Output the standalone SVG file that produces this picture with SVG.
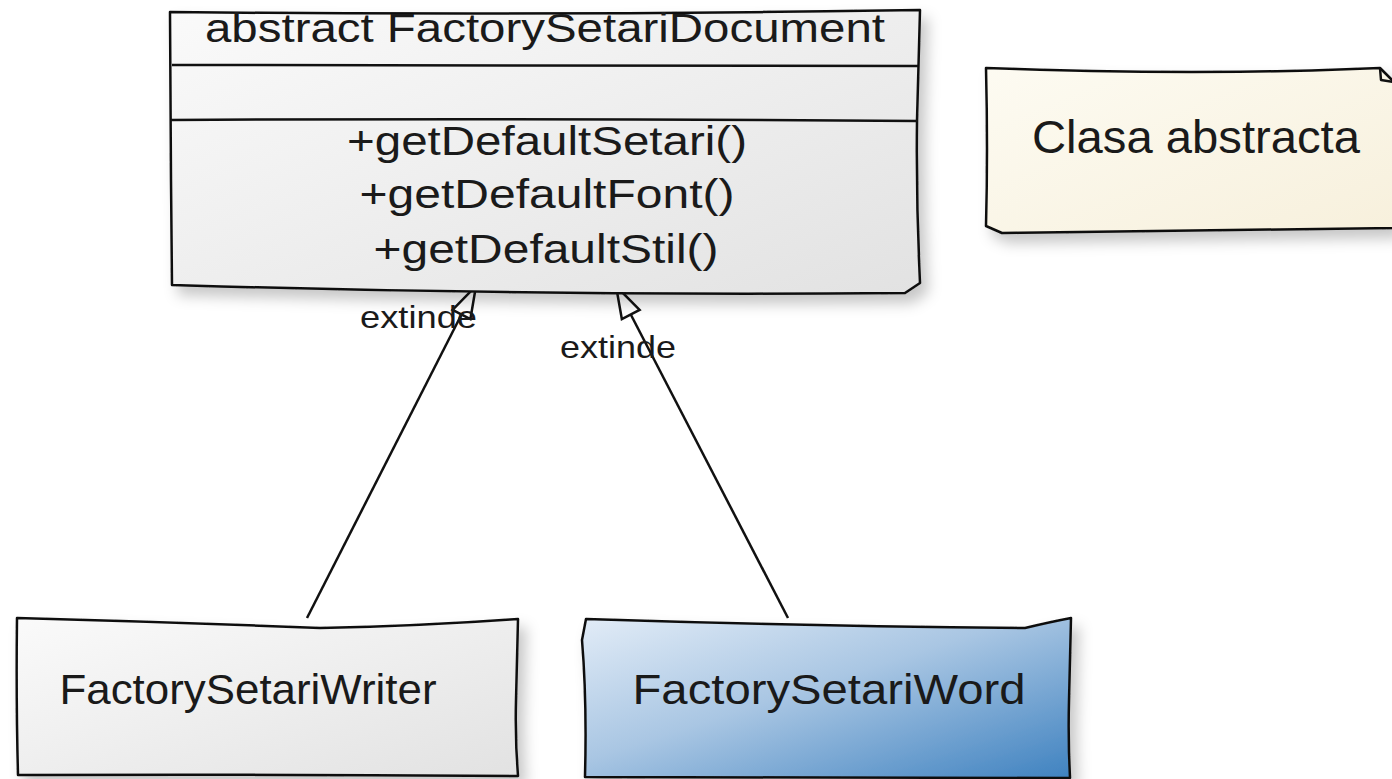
<svg xmlns="http://www.w3.org/2000/svg" width="1392" height="779" viewBox="0 0 1392 779">
<style>
.box{stroke:#111;stroke-width:2.5;stroke-linejoin:round}
.t{font-family:"Liberation Sans",Arial,sans-serif;fill:#1a1a1a}
.edge{stroke:#111;stroke-width:2.5;fill:none}
.lbl{font-family:"Liberation Sans",Arial,sans-serif;font-size:32px;fill:#1a1a1a}
</style>
<defs>
<linearGradient id="grey" x1="0" y1="0" x2="1" y2="1">
<stop offset="0" stop-color="#fafafa"/><stop offset="1" stop-color="#e2e2e2"/>
</linearGradient>
<linearGradient id="note" x1="0" y1="0" x2="1" y2="1">
<stop offset="0" stop-color="#fdfbf2"/><stop offset="1" stop-color="#f7f0dc"/>
</linearGradient>
<linearGradient id="blue" x1="0" y1="0" x2="1" y2="1">
<stop offset="0" stop-color="#e2ecf7"/><stop offset="0.45" stop-color="#a9c6e3"/><stop offset="1" stop-color="#3f82c0"/>
</linearGradient>
<filter id="sh" x="-5%" y="-5%" width="115%" height="125%">
<feDropShadow dx="7" dy="9" stdDeviation="7" flood-color="#000" flood-opacity="0.22"/>
</filter>
<marker id="tri" markerUnits="userSpaceOnUse" markerWidth="40" markerHeight="30" viewBox="0 0 40 30" refX="36" refY="15" orient="auto">
<path d="M4,5 L36,15 L4,25 Z" fill="#fff" stroke="#111" stroke-width="2.5" stroke-linejoin="miter"/>
</marker>
</defs>
<rect width="1392" height="779" fill="#fff"/>

<g id="connectors">
<g id="e1">
<path class="edge" d="M307,618 L476,286" marker-end="url(#tri)"/>
<text class="lbl" x="360" y="328" textLength="117" lengthAdjust="spacingAndGlyphs">extinde</text>
</g>
<g id="e2">
<path class="edge" d="M788,618 L616,286" marker-end="url(#tri)"/>
<text class="lbl" x="560" y="358" textLength="116" lengthAdjust="spacingAndGlyphs">extinde</text>
</g>
</g>

<g id="abstract">
<path class="box" filter="url(#sh)" fill="url(#grey)" d="M170,12 Q540,16 920,10 L917,120 Q916,200 920,283 L905,293 Q540,296 172,285 L171,180 Z"/>
<path class="box" fill="none" d="M172,65 Q540,66 918,66"/>
<path class="box" fill="none" d="M171,120 Q540,118 918,121"/>
<text class="t" x="545" y="42" font-size="40" text-anchor="middle" textLength="680" lengthAdjust="spacingAndGlyphs">abstract FactorySetariDocument</text>
<text class="t" x="547" y="155" font-size="40" text-anchor="middle" textLength="400" lengthAdjust="spacingAndGlyphs">+getDefaultSetari()</text>
<text class="t" x="547" y="208" font-size="40" text-anchor="middle" textLength="375" lengthAdjust="spacingAndGlyphs">+getDefaultFont()</text>
<text class="t" x="546" y="263" font-size="40" text-anchor="middle" textLength="345" lengthAdjust="spacingAndGlyphs">+getDefaultStil()</text>
</g>

<g id="note1">
<path class="box" filter="url(#sh)" fill="url(#note)" d="M986,68 Q1200,76 1380,68 L1394,82 L1394,228 Q1200,230 1002,233 L986,226 Q988,150 986,68 Z"/>
<path class="box" fill="none" d="M1380,68 L1381,80 L1394,82"/>
<text class="t" x="1196" y="153" font-size="46" text-anchor="middle" textLength="328" lengthAdjust="spacingAndGlyphs">Clasa abstracta</text>
</g>

<g id="writer">
<path class="box" filter="url(#sh)" fill="url(#grey)" d="M17,618 Q170,622 320,628 Q420,626 518,619 L516,700 Q515,740 518,776 Q270,774 18,775 Q16,700 17,618 Z"/>
<text class="t" x="248" y="704" font-size="43" text-anchor="middle" textLength="377" lengthAdjust="spacingAndGlyphs">FactorySetariWriter</text>
</g>

<g id="word">
<path class="box" filter="url(#sh)" fill="url(#blue)" d="M586,619 Q800,626 1025,628 Q1050,622 1071,618 L1069,700 Q1068,740 1070,778 Q830,778 585,777 Q587,700 582,640 Z"/>
<text class="t" x="829" y="704" font-size="43" text-anchor="middle" textLength="393" lengthAdjust="spacingAndGlyphs">FactorySetariWord</text>
</g>
</svg>
